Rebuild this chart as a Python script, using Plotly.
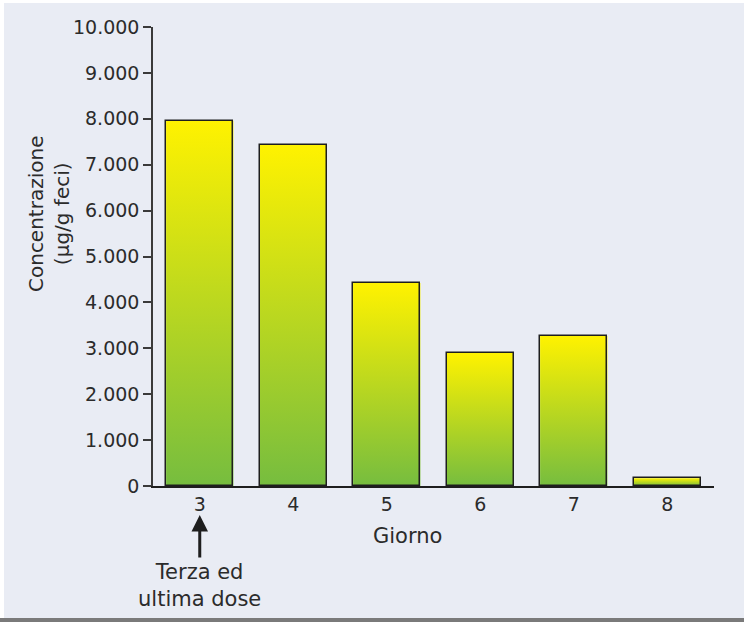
import plotly.graph_objects as go

# Concentrazione fecale per giorno di trattamento
giorni = [3, 4, 5, 6, 7, 8]
concentrazione = [7960, 7430, 4420, 2900, 3270, 170]
y_ticks = [0, 1000, 2000, 3000, 4000, 5000, 6000, 7000, 8000, 9000, 10000]

BAR_WIDTH = 0.72
GREEN = "#76bd3f"
YELLOW = "#fff200"
TEXT = "#2b2b2b"
FONT = "DejaVu Sans"
X_RANGE = [2.5, 8.5]
Y_RANGE = [0, 10000]

fig = go.Figure()

# vertical yellow-to-green gradient fill for each bar
for g, v in zip(giorni, concentrazione):
    x0, x1 = g - BAR_WIDTH / 2, g + BAR_WIDTH / 2
    fig.add_trace(go.Scatter(
        x=[x0, x1, x1, x0, x0],
        y=[0, 0, v, v, 0],
        mode="lines",
        line=dict(width=0),
        fill="toself",
        fillgradient=dict(type="vertical",
                          colorscale=[[0, GREEN], [1, YELLOW]]),
        hoverinfo="skip",
        showlegend=False,
    ))

# bar outlines, on an overlaid copy of the axes so they sit above the fills
fig.add_trace(go.Bar(
    x=giorni,
    y=concentrazione,
    width=BAR_WIDTH,
    xaxis="x2", yaxis="y2",
    marker=dict(color="rgba(0,0,0,0)", line=dict(color="#1e1e1e", width=1.5)),
    showlegend=False,
))

W, H = 744, 622
L, R, T, B = 153, 714, 27, 486
pw, ph = R - L, B - T


def px(xp):
    return (xp - L) / pw


def py(yp):
    return (B - yp) / ph


shapes = [
    # panel background
    dict(type="rect", xref="paper", yref="paper",
         x0=px(4), x1=px(W), y0=py(618), y1=py(3),
         fillcolor="#e9ecf4", line=dict(width=0), layer="below"),
    # bottom band
    dict(type="rect", xref="paper", yref="paper",
         x0=px(0), x1=px(W), y0=py(623), y1=py(618),
         fillcolor="#7a7a7a", line=dict(width=0), layer="below"),
]

annotations = [
    dict(text="Concentrazione<br>(µg/g feci)", xref="paper", yref="paper",
         x=px(49), y=py(214), textangle=-90, showarrow=False,
         xanchor="center", yanchor="middle",
         font=dict(family=FONT, size=20, color=TEXT)),
    dict(text="Giorno", xref="paper", yref="paper",
         x=px(407), y=py(536), showarrow=False,
         xanchor="center", yanchor="middle",
         font=dict(family=FONT, size=21, color=TEXT)),
    dict(text="Terza ed<br>ultima dose", xref="x", yref="paper",
         x=giorni[0], y=py(585), showarrow=False,
         xanchor="center", yanchor="middle",
         font=dict(family=FONT, size=21, color=TEXT)),
    dict(text="", xref="x", yref="paper",
         x=giorni[0], y=py(515), showarrow=True,
         ax=0, ay=44, arrowhead=2, arrowwidth=3, arrowsize=1.1,
         arrowcolor="#1e1e1e", standoff=0),
]

fig.update_layout(
    width=W, height=H,
    margin=dict(l=L, r=W - R, t=T, b=H - B, pad=0),
    paper_bgcolor="white",
    plot_bgcolor="rgba(0,0,0,0)",
    separators=",.",
    font=dict(family=FONT, size=19, color=TEXT),
    shapes=shapes,
    annotations=annotations,
    bargap=0,
    xaxis=dict(
        range=X_RANGE,
        tickvals=giorni,
        ticktext=[str(g) for g in giorni],
        showgrid=False, zeroline=False,
        showline=True, linecolor="#1e1e1e", linewidth=1.5,
        ticks="",
        tickfont=dict(family=FONT, size=19, color=TEXT),
    ),
    yaxis=dict(
        range=Y_RANGE,
        tickvals=y_ticks,
        tickformat=",d",
        showgrid=False, zeroline=False,
        showline=True, linecolor="#3a3a3a", linewidth=1.5,
        ticks="outside", ticklen=8, tickwidth=1.5, tickcolor="#3a3a3a",
        tickfont=dict(family=FONT, size=19, color=TEXT),
    ),
    xaxis2=dict(range=X_RANGE, overlaying="x", matches="x", visible=False),
    yaxis2=dict(range=Y_RANGE, overlaying="y", matches="y", visible=False),
)

fig.write_html("out.html")
